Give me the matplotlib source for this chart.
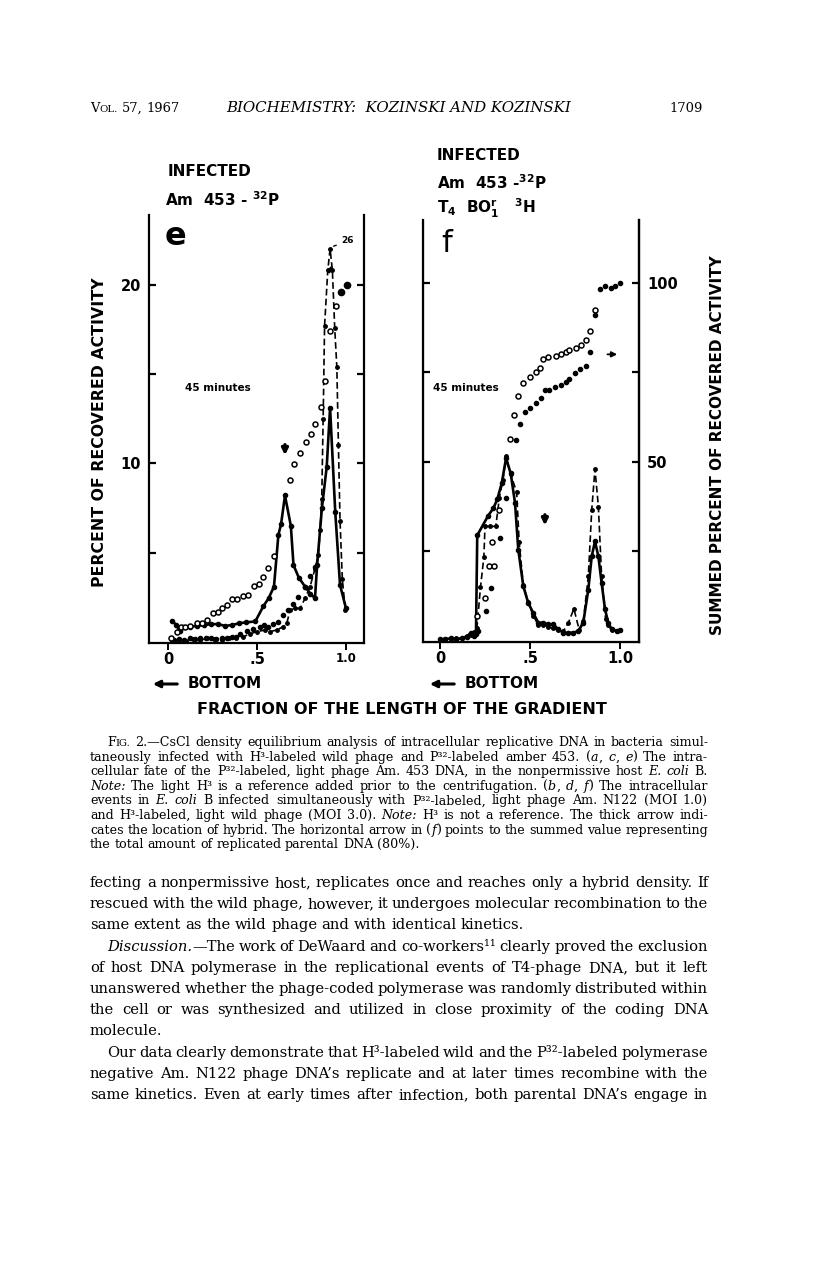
# Fig. 2 (e, f) of Kozinski & Kozinski 1967 with the page text around it
import matplotlib
matplotlib.use('Agg')
import matplotlib.pyplot as plt

W, H = 816, 1261  # page size in pixels
SANS = 'DejaVu Sans'
SERIF = 'DejaVu Serif'

# ---- panel e : Am 453 - 32P, 45 minutes ----
e_solid_x = [0.02, 0.045, 0.065, 0.085, 0.12, 0.16, 0.2, 0.24, 0.28, 0.32, 0.36, 0.40, 0.44, 0.49,
             0.535, 0.565, 0.595, 0.62, 0.635, 0.657, 0.69, 0.705, 0.735, 0.77, 0.80, 0.826,
             0.838, 0.865, 0.892, 0.911, 0.94, 0.967, 1.0]
e_solid_y = [1.2, 0.95, 0.6, 0.85, 0.85, 0.9, 0.95, 1.0, 1.0, 0.9, 0.95, 1.05, 1.1, 1.15,
             2.0, 2.45, 3.1, 6.0, 6.6, 8.2, 6.5, 4.3, 3.6, 3.1, 2.7, 2.45,
             4.3, 7.5, 9.8, 13.1, 7.3, 3.2, 1.9]
e_dash_x = [0.02, 0.06, 0.10, 0.14, 0.18, 0.22, 0.26, 0.30, 0.34, 0.38, 0.423, 0.46, 0.498, 0.545,
            0.573, 0.61, 0.648, 0.667, 0.686, 0.714, 0.742, 0.77, 0.798, 0.826, 0.845, 0.855,
            0.864, 0.872, 0.880, 0.898, 0.911, 0.924, 0.937, 0.949, 0.958, 0.967, 0.98, 0.997]
e_dash_y = [0.05, 0.1, 0.05, 0.15, 0.1, 0.2, 0.15, 0.1, 0.2, 0.25, 0.3, 0.45, 0.58, 0.67,
            0.58, 0.67, 0.86, 1.04, 1.79, 1.88, 1.88, 2.44, 3.09, 4.1, 4.86, 6.26,
            8.0, 12.5, 17.7, 20.8, 22.0, 20.8, 17.6, 15.4, 11.0, 6.8, 3.5, 1.8]
e_dot_x = [0.03, 0.06, 0.09, 0.12, 0.15, 0.18, 0.21, 0.24, 0.27, 0.30, 0.33, 0.36, 0.38, 0.404,
           0.442, 0.479, 0.517, 0.54, 0.563, 0.592, 0.62, 0.648, 0.676, 0.704, 0.732, 0.77, 0.80, 0.826]
e_dot_y = [0.1, 0.15, 0.1, 0.2, 0.15, 0.2, 0.25, 0.2, 0.15, 0.25, 0.2, 0.3, 0.3, 0.45,
           0.63, 0.74, 0.86, 0.95, 0.86, 1.0, 1.13, 1.5, 1.8, 2.1, 2.5, 3.1, 3.7, 4.2]
e_open_x = [0.013, 0.047, 0.069, 0.094, 0.122, 0.16, 0.188, 0.216, 0.253, 0.28, 0.304, 0.331, 0.361,
            0.387, 0.42, 0.448, 0.48, 0.51, 0.535, 0.563, 0.595, 0.686, 0.71, 0.742, 0.774, 0.802,
            0.827, 0.859, 0.883, 0.911, 0.942]
e_open_y = [0.2, 0.58, 0.86, 0.86, 0.9, 1.05, 1.09, 1.23, 1.6, 1.69, 1.88, 2.07, 2.4,
            2.4, 2.57, 2.63, 3.13, 3.24, 3.65, 4.12, 4.8, 9.05, 9.98, 10.58, 11.19, 11.66,
            12.22, 13.15, 14.6, 17.4, 18.8]
e_end_x = [0.971, 1.005]
e_end_y = [19.57, 20.0]
e_break = 20.8   # break on the off-scale peak
e_peak_label = '26'

# ---- panel f : Am 453 - 32P + T4 BO1r 3H, 45 minutes ----
f_solid_x = [0.0, 0.03, 0.06, 0.09, 0.12, 0.15, 0.17, 0.19, 0.2, 0.207, 0.268, 0.296, 0.318, 0.343,
             0.367, 0.393, 0.417, 0.435, 0.463, 0.49, 0.518, 0.546, 0.574, 0.602, 0.63, 0.657,
             0.685, 0.713, 0.74, 0.768, 0.796, 0.824, 0.843, 0.861, 0.88, 0.898, 0.917, 0.935,
             0.954, 0.981, 1.0]
f_solid_y = [0.1, 0.1, 0.15, 0.1, 0.15, 0.25, 0.45, 0.3, 0.4, 5.9, 7.0, 7.4, 7.9, 8.8,
             10.2, 9.35, 7.7, 5.1, 3.06, 2.13, 1.57, 1.02, 1.02, 0.93, 0.93, 0.65,
             0.46, 0.46, 0.46, 0.55, 1.02, 2.87, 4.72, 5.56, 4.72, 3.24, 1.76, 1.02,
             0.65, 0.56, 0.6]
f_dash_x = [0.0, 0.03, 0.06, 0.09, 0.12, 0.15, 0.17, 0.19, 0.205, 0.225, 0.244, 0.25, 0.28, 0.31,
            0.33, 0.35, 0.367, 0.393, 0.426, 0.44, 0.463, 0.49, 0.518, 0.546, 0.574, 0.602, 0.63,
            0.657, 0.685, 0.713, 0.744, 0.774, 0.796, 0.824, 0.843, 0.861, 0.88, 0.898, 0.92,
            0.935, 0.954, 0.981, 1.0]
f_dash_y = [0.05, 0.1, 0.1, 0.15, 0.15, 0.3, 0.35, 0.5, 0.7, 3.0, 4.7, 6.4, 6.4, 6.4,
            8.0, 9.0, 10.3, 9.3, 8.3, 5.5, 3.1, 2.2, 1.4, 0.9, 0.9, 0.8, 0.7,
            0.6, 0.55, 1.0, 1.8, 0.6, 1.1, 3.6, 7.3, 9.6, 7.5, 3.6, 1.2,
            0.9, 0.6, 0.55, 0.6]
f_open_x = [0.207, 0.25, 0.27, 0.30, 0.29, 0.33]
f_open_y = [1.39, 2.4, 4.16, 4.16, 5.55, 7.3]
f_dot_x = [0.213, 0.258, 0.282, 0.333, 0.366]
f_dot_y = [0.56, 1.66, 2.96, 5.74, 7.96]
# summed percent (right scale)
f_sum_open_x = [0.389, 0.413, 0.431, 0.463, 0.5, 0.532, 0.556, 0.574, 0.602, 0.643, 0.67, 0.7,
                0.718, 0.756, 0.785, 0.81, 0.835, 0.861]
f_sum_open_y = [56.5, 63.1, 68.3, 72.0, 73.6, 75.2, 76.1, 78.6, 79.2, 79.5, 80.0, 80.6,
                81.2, 81.9, 82.6, 84.1, 86.5, 92.5]
f_sum_dot_x = [0.422, 0.444, 0.47, 0.502, 0.533, 0.561, 0.583, 0.607, 0.639, 0.67, 0.698, 0.717,
               0.75, 0.779, 0.81, 0.835, 0.861, 0.89, 0.918, 0.948, 0.974, 1.0]
f_sum_dot_y = [56.0, 60.5, 63.8, 64.9, 66.3, 67.8, 70.1, 70.1, 71.0, 71.4, 72.3, 73.1,
               74.8, 75.8, 76.7, 80.7, 91.1, 98.3, 99.0, 98.4, 99.2, 99.9]
f_replicated = 80  # summed value of replicated parental DNA

# ---- page text ----
caption_lines = [
    'F~IG.~ 2.—CsCl density equilibrium analysis of intracellular replicative DNA in bacteria simul-',
    'taneously infected with H³-labeled wild phage and P³²-labeled amber 453.  (_a_, _c_, _e_) The intra-',
    'cellular fate of the P³²-labeled, light phage Am. 453 DNA, in the nonpermissive host _E._ _coli_ B.',
    '_Note:_  The light H³ is a reference added prior to the centrifugation.  (_b_, _d_, _f_) The intracellular',
    'events in _E._ _coli_ B infected simultaneously with P³²-labeled, light phage Am. N122 (MOI 1.0)',
    'and H³-labeled, light wild phage (MOI 3.0).  _Note:_  H³ is not a reference.  The thick arrow indi-',
    'cates the location of hybrid.  The horizontal arrow in (_f_) points to the summed value representing',
    'the total amount of replicated parental DNA (80%).',
]
body_lines = [
    'fecting a nonpermissive host, replicates once and reaches only a hybrid density.  If',
    'rescued with the wild phage, however, it undergoes molecular recombination to the',
    'same extent as the wild phage and with identical kinetics.',
    '_Discussion._—The work of DeWaard and co-workers¹¹ clearly proved the exclusion',
    'of host DNA polymerase in the replicational events of T4-phage DNA, but it left',
    'unanswered whether the phage-coded polymerase was randomly distributed within',
    'the cell or was synthesized and utilized in close proximity of the coding DNA',
    'molecule.',
    'Our data clearly demonstrate that H³-labeled wild and the P³²-labeled polymerase',
    'negative Am. N122 phage DNA’s replicate and at later times recombine with the',
    'same kinetics.  Even at early times after infection, both parental DNA’s engage in',
]
body_indent = [3, 8]        # lines starting a paragraph
body_last = [2, 7]          # last lines of a paragraph (not justified)


def fx(px):
    return px / W


def fy(py):
    return 1 - py / H


plt.rcParams['font.family'] = SANS
plt.rcParams['mathtext.fontset'] = 'dejavusans'
plt.rcParams['mathtext.default'] = 'bf'

fig = plt.figure(figsize=(W / 100, H / 100), dpi=100)
renderer = fig.canvas.get_renderer()


def split_styles(word):
    # '_' toggles italic, '~' toggles small capitals
    segs, buf, italic, small = [], '', False, False
    for ch in word:
        if ch in '_~':
            if buf:
                segs.append((buf, italic, small))
            buf = ''
            if ch == '_':
                italic = not italic
            else:
                small = not small
        else:
            buf += ch
    if buf:
        segs.append((buf, italic, small))
    return segs


def text_line(line, py, size, x0=90, x1=708, justify=True):
    words = line.split()
    pieces, widths = [], []
    for w in words:
        parts, wsum = [], 0
        for s, it, sm in split_styles(w):
            t = fig.text(0, fy(py), s, fontsize=size * 0.78 if sm else size,
                         style='italic' if it else 'normal', family=SERIF, va='baseline')
            bw = t.get_window_extent(renderer).width
            parts.append((t, bw))
            wsum += bw
        pieces.append(parts)
        widths.append(wsum)
    if justify and len(words) > 1:
        gap = (x1 - x0 - sum(widths)) / (len(words) - 1)
    else:
        gap = size * 100 / 72 * 0.3
    x = x0
    for parts in pieces:
        for t, bw in parts:
            t.set_x(fx(x))
            x += bw
        x += gap


# header
text_line('V~OL.~ 57, 1967', 112, 9.4, x0=90, justify=False)
fig.text(fx(399), fy(112), 'BIOCHEMISTRY:  KOZINSKI AND KOZINSKI', family=SERIF, style='italic',
         fontsize=10.8, ha='center', va='baseline')
fig.text(fx(703), fy(112), '1709', family=SERIF, fontsize=9.4, ha='right', va='baseline')

# caption
for i, line in enumerate(caption_lines):
    text_line(line, 746 + i * 14.6, 9.1, x0=107 if i == 0 else 90,
              justify=i < len(caption_lines) - 1)

# body
for i, line in enumerate(body_lines):
    text_line(line, 887 + i * 21.2, 10.6, x0=107 if i in body_indent else 90,
              justify=i not in body_last)

# ---- the two panels ----
ax_e = fig.add_axes([fx(149.3), fy(642.7), (364 - 149.3) / W, (642.7 - 215) / H])
ax_f = fig.add_axes([fx(422.7), fy(641.7), (638.7 - 422.7) / W, (641.7 - 220) / H])


def style_axes(ax, xlim, ylim):
    ax.set_xlim(*xlim)
    ax.set_ylim(*ylim)
    ax.spines['top'].set_visible(False)
    for s in ['left', 'right', 'bottom']:
        ax.spines[s].set_linewidth(1.6)
    ax.set_xticks([0, 0.5, 1.0])
    ax.set_xticklabels(['0', '.5', '1.0'], fontweight='bold', fontsize=10.5)
    ax.tick_params(axis='x', direction='out', length=5, width=1.4, pad=2)
    ax.set_yticks([5, 10, 15, 20])
    ax.set_yticklabels(['', '10', '', '20'], fontweight='bold', fontsize=10.5)
    ax.tick_params(axis='y', direction='in', length=5, width=1.6, left=True, right=True, pad=6)


style_axes(ax_e, (-0.107, 1.102), (-0.04, 23.9))
style_axes(ax_f, (-0.096, 1.104), (-0.04, 23.5))
ax_e.get_xticklabels()[-1].set_fontsize(8.5)
ax_f.tick_params(axis='y', labelleft=False)

dot = dict(color='k', marker='o', ms=3.0, mfc='k', mec='k')
ring = dict(color='k', marker='o', ms=3.6, mfc='white', mec='k', mew=1.1, ls='none')

# panel e
ax_e.plot(e_solid_x, e_solid_y, '-', lw=1.9, **dot)
ax_e.plot(e_dash_x, e_dash_y, lw=1.2, ls=(0, (4, 2)), **dict(dot, ms=2.5))
ax_e.plot(e_dot_x, e_dot_y, ls='none', **dot)
ax_e.plot(e_open_x, e_open_y, **ring)
ax_e.plot(e_end_x, e_end_y, ls='none', **dict(dot, ms=4.5))
bx = [x for x, y in zip(e_dash_x, e_dash_y) if y == e_break]
ax_e.plot(bx, [e_break - 0.1, e_break + 0.15], color='k', lw=3, solid_capstyle='butt')
top = e_dash_y.index(max(e_dash_y))
ax_e.annotate(e_peak_label, xy=(e_dash_x[top] + 0.005, e_dash_y[top] + 0.1),
              xytext=(e_dash_x[top] + 0.065, e_dash_y[top] + 0.45),
              arrowprops=dict(arrowstyle='-', lw=1.0, color='k'),
              fontsize=6.5, fontweight='bold', va='center')
ax_e.text(0.28, 14.2, '45 minutes', fontsize=7.5, fontweight='bold', ha='center', va='center')
ax_e.text(0.04, 22.7, 'e', fontsize=23, fontweight='bold', ha='center', va='center')
ax_e.annotate('', xy=(0.657, 10.3), xytext=(0.657, 11.2),
              arrowprops=dict(arrowstyle='-|>', lw=2.4, color='k', mutation_scale=9))

# panel f
ax_f.plot(f_solid_x, f_solid_y, '-', lw=1.9, **dot)
ax_f.plot(f_dash_x, f_dash_y, lw=1.2, ls=(0, (4, 2)), **dict(dot, ms=2.5))
ax_f.plot(f_open_x, f_open_y, **ring)
ax_f.plot(f_dot_x, f_dot_y, ls='none', **dot)
ax_f.text(0.145, 14.1, '45 minutes', fontsize=7.5, fontweight='bold', ha='center', va='center')
ax_f.text(0.035, 22.2, 'f', fontsize=22, ha='center', va='center')
ax_f.annotate('', xy=(0.583, 6.3), xytext=(0.583, 7.2),
              arrowprops=dict(arrowstyle='-|>', lw=2.4, color='k', mutation_scale=9))

ax_s = ax_f.twinx()
ax_s.set_ylim(-0.2, 23.5 * 5)
ax_s.spines['top'].set_visible(False)
ax_s.spines['right'].set_linewidth(1.6)
ax_s.set_yticks([25, 50, 75, 100])
ax_s.set_yticklabels(['', '50', '', '100'], fontweight='bold', fontsize=10.5)
ax_s.tick_params(axis='y', direction='in', length=5, width=1.6, pad=6)
ax_s.plot(f_sum_open_x, f_sum_open_y, **ring)
ax_s.plot(f_sum_dot_x, f_sum_dot_y, ls='none', **dot)
ax_s.annotate('', xy=(1.0, f_replicated), xytext=(0.915, f_replicated),
              arrowprops=dict(arrowstyle='-|>', lw=1.3, color='k', mutation_scale=8))

# panel titles
fig.text(fx(168), fy(172), 'INFECTED', fontsize=11, fontweight='bold', va='center')
fig.text(fx(165), fy(200), 'Am  453 - $^{32}$P', fontsize=11, fontweight='bold', va='center')
fig.text(fx(437), fy(155), 'INFECTED', fontsize=11, fontweight='bold', va='center')
fig.text(fx(437), fy(183), 'Am  453 -$^{32}$P', fontsize=11, fontweight='bold', va='center')
fig.text(fx(437), fy(208), 'T$_4$  BO$_1^r$   $^3$H', fontsize=11, fontweight='bold', va='center')

# axis titles
fig.text(fx(100), fy(432), 'PERCENT OF RECOVERED ACTIVITY', rotation=90, fontsize=11.3,
         fontweight='bold', ha='center', va='center')
fig.text(fx(718), fy(445), 'SUMMED PERCENT OF RECOVERED ACTIVITY', rotation=90, fontsize=11,
         fontweight='bold', ha='center', va='center')
for x_arrow, x_word in [(150, 188), (427, 465)]:
    fig.patches.append(matplotlib.patches.FancyArrowPatch(
        (fx(x_arrow + 30), fy(684)), (fx(x_arrow), fy(684)), transform=fig.transFigure,
        arrowstyle='-|>', mutation_scale=10, lw=2.2, color='k'))
    fig.text(fx(x_word), fy(684), 'BOTTOM', fontsize=11, fontweight='bold', va='center')
fig.text(fx(402), fy(710), 'FRACTION OF THE LENGTH OF THE GRADIENT', fontsize=11.5,
         fontweight='bold', ha='center', va='center')

fig.savefig('out.png', dpi=100)
